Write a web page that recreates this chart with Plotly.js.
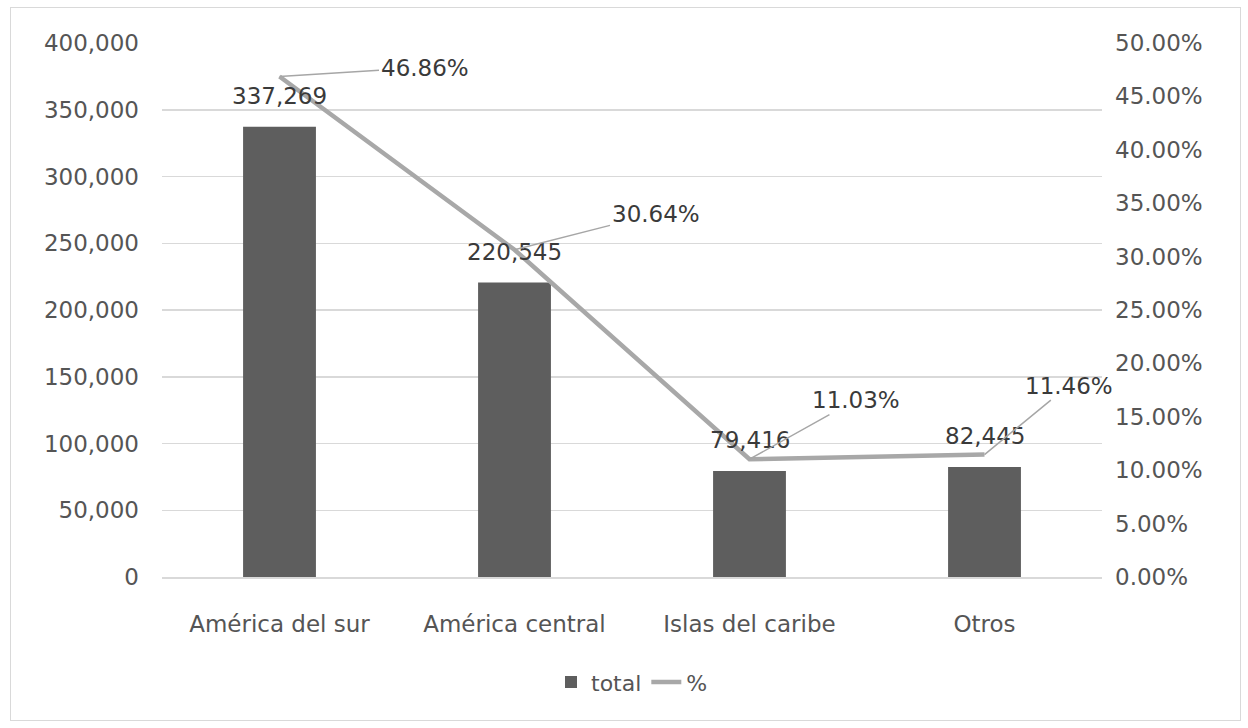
<!DOCTYPE html>
<html>
<head>
<meta charset="utf-8">
<script src="https://cdn.plot.ly/plotly-3.0.1.min.js"></script>
<style>
  html, body { margin: 0; padding: 0; background: #fff; }
  #wrap { position: relative; width: 1248px; height: 728px; }
  #chart { width: 1248px; height: 728px; }
  #frame { position: absolute; left: 10px; top: 7px; width: 1229px; height: 712px;
           border: 1.5px solid #d9d9d9; pointer-events: none; }
</style>
</head>
<body>
<div id="wrap">
  <div id="chart"></div>
  <div id="frame"></div>
</div>
<script>
const categories = ["América del sur", "América central", "Islas del caribe", "Otros"];
const totals = [337269, 220545, 79416, 82445];
const percents = [0.4686, 0.3064, 0.1103, 0.1146];
const leftTicks = [0, 50000, 100000, 150000, 200000, 250000, 300000, 350000, 400000];
const rightTicks = [0, 0.05, 0.10, 0.15, 0.20, 0.25, 0.30, 0.35, 0.40, 0.45, 0.50];

const FONT = "DejaVu Sans, Arial, sans-serif";
const TXT = "#3a3a3a";
const TICK = "#555555";
const FS = 23;

const barTrace = {
  type: "bar", name: "total", x: categories, y: totals,
  marker: { color: "#5e5e5e" }, width: 0.31, yaxis: "y",
  hoverinfo: "skip"
};
const lineTrace = {
  type: "scatter", mode: "lines", name: "%", x: categories, y: percents,
  line: { color: "#a8a8a8", width: 4.5 }, yaxis: "y2", hoverinfo: "skip"
};

const fmt = v => v.toLocaleString("en-US");
const pctOffsets = [[145, -9], [141, -36], [106, -59], [84, -69]];

const annotations = [];
categories.forEach((c, i) => {
  annotations.push({
    x: c, y: totals[i], xref: "x", yref: "y", text: fmt(totals[i]),
    showarrow: false, yshift: 31, font: { family: FONT, size: FS, color: TXT }
  });
  annotations.push({
    x: c, y: percents[i], xref: "x", yref: "y2", text: (percents[i] * 100).toFixed(2) + "%",
    showarrow: true, arrowhead: 0, arrowwidth: 1.5, arrowcolor: "#a6a6a6",
    ax: pctOffsets[i][0], ay: pctOffsets[i][1],
    font: { family: FONT, size: FS, color: TXT }
  });
});

const layout = {
  width: 1248, height: 728,
  margin: { l: 162, r: 146, t: 43, b: 151, autoexpand: false },
  paper_bgcolor: "#fff", plot_bgcolor: "#fff",
  font: { family: FONT, size: FS, color: TICK },
  showlegend: true,
  legend: { orientation: "h", x: 0.5, xanchor: "center", y: -0.197, yanchor: "middle",
            font: { family: FONT, size: 22, color: TICK }, traceorder: "normal" },
  xaxis: {
    type: "category", range: [-0.5, 3.5], automargin: false,
    showgrid: false, showline: true, linecolor: "#d9d9d9", linewidth: 1.5,
    ticks: "", ticklabelstandoff: 26, tickfont: { family: FONT, size: FS, color: TICK }
  },
  yaxis: {
    range: [0, 400000], tickvals: leftTicks, ticktext: leftTicks.map(fmt), automargin: false,
    showgrid: true, gridcolor: "#d9d9d9", gridwidth: 1.5, zeroline: false,
    ticks: "", ticklabelstandoff: 22, tickfont: { family: FONT, size: FS, color: TICK }
  },
  yaxis2: {
    range: [0, 0.5], overlaying: "y", side: "right", tickvals: rightTicks, automargin: false,
    ticktext: rightTicks.map(v => (v * 100).toFixed(2) + "%"),
    showgrid: false, zeroline: false, ticks: "", ticklabelstandoff: 12,
    tickfont: { family: FONT, size: FS, color: TICK }
  },
  annotations: annotations,
  bargap: 0.69
};

Plotly.newPlot("chart", [barTrace, lineTrace], layout, { displayModeBar: false, staticPlot: true });
</script>
</body>
</html>
